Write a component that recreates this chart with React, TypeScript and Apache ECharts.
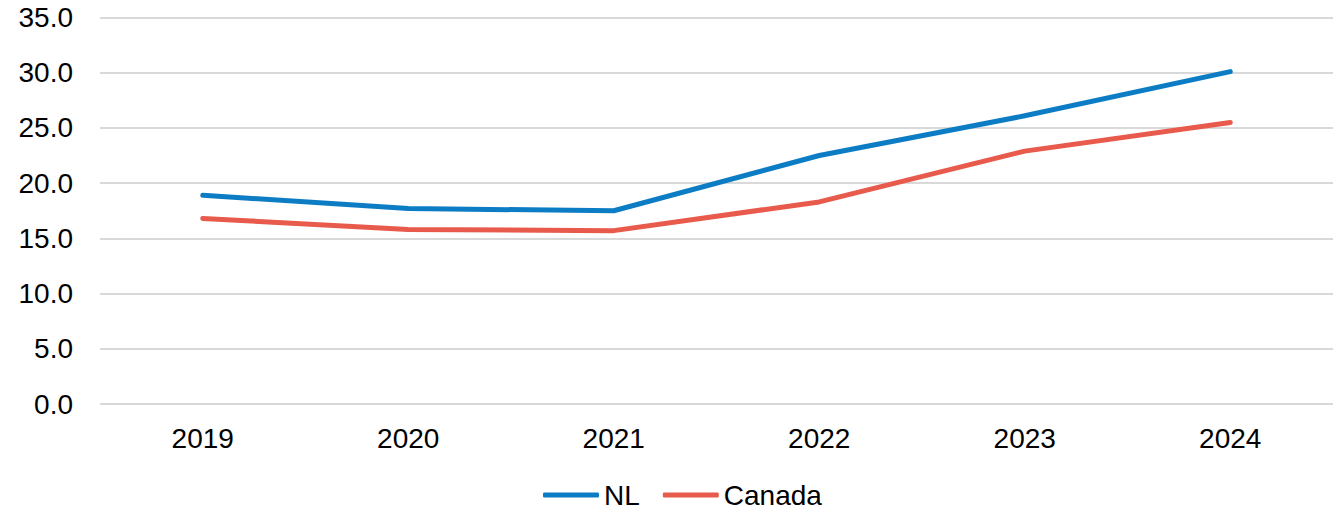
import React, { useEffect, useRef } from "react";
import * as echarts from "echarts";

const years = ["2019", "2020", "2021", "2022", "2023", "2024"];
const nlValues = [18.9, 17.7, 17.5, 22.5, 26.1, 30.1];
const canadaValues = [16.8, 15.8, 15.7, 18.3, 22.9, 25.5];
const seriesNames = ["NL", "Canada"];
const seriesColors = ["#0c7dc4", "#e85a4b"];

export default function App() {
  const ref = useRef<HTMLDivElement>(null);
  useEffect(() => {
    if (!ref.current) return;
    const chart = echarts.init(ref.current, undefined, { renderer: "svg" });
    const font = "Liberation Sans, Arial, sans-serif";
    chart.setOption({
      animation: false,
      grid: { left: 100, right: 7, top: 17.5, bottom: 108, containLabel: false },
      legend: {
        data: seriesNames,
        left: 543,
        top: 481,
        padding: 0,
        itemWidth: 56,
        itemHeight: 5,
        itemGap: 23,
        icon: "roundRect",
        textStyle: { fontFamily: font, fontSize: 28, color: "#000", padding: [0, 0, 0, 0] },
      },
      xAxis: {
        type: "category",
        data: years,
        boundaryGap: true,
        axisLine: { show: false },
        axisTick: { show: false },
        axisLabel: { fontFamily: font, fontSize: 28, color: "#000", margin: 20 },
      },
      yAxis: {
        type: "value",
        min: 0,
        max: 35,
        interval: 5,
        axisLine: { show: false },
        axisTick: { show: false },
        splitLine: { lineStyle: { color: "#d9d9d9", width: 2 } },
        axisLabel: {
          fontFamily: font,
          fontSize: 28,
          color: "#000",
          margin: 27,
          formatter: (v: number) => v.toFixed(1),
        },
      },
      series: [
        {
          name: seriesNames[0],
          type: "line",
          data: nlValues,
          symbol: "none",
          color: seriesColors[0],
          lineStyle: { width: 5, cap: "round", join: "round" },
        },
        {
          name: seriesNames[1],
          type: "line",
          data: canadaValues,
          symbol: "none",
          color: seriesColors[1],
          lineStyle: { width: 5, cap: "round", join: "round" },
        },
      ],
    });
    return () => chart.dispose();
  }, []);
  return (
    <div
      ref={ref}
      style={{ position: "fixed", left: 0, top: 0, width: 1340, height: 512, background: "#fff" }}
    />
  );
}
